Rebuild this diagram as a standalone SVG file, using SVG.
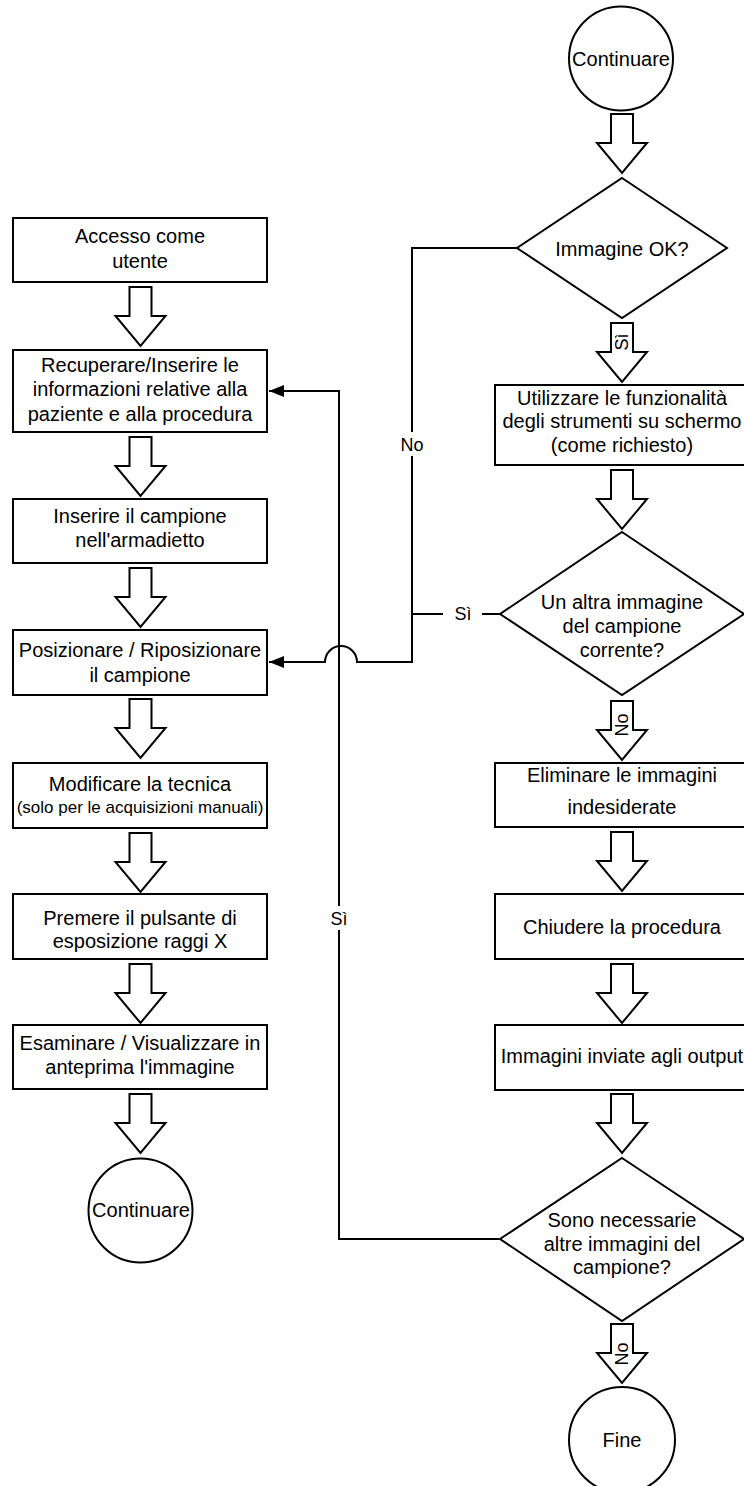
<svg xmlns="http://www.w3.org/2000/svg" width="744" height="1486" viewBox="0 0 744 1486">
<style>
  .shape { fill: #ffffff; stroke: #000000; stroke-width: 2; }
  .blk { fill: #ffffff; stroke: #000000; stroke-width: 2; stroke-linejoin: miter; }
  .t { font-family: "Liberation Sans", Arial, sans-serif; font-size: 20px; fill: #000000; text-anchor: middle; }
  .ts { font-family: "Liberation Sans", Arial, sans-serif; font-size: 17px; fill: #000000; text-anchor: middle; }
  .lbl { font-family: "Liberation Sans", Arial, sans-serif; font-size: 18px; fill: #000000; text-anchor: middle; }
  .rl { font-family: "Liberation Sans", Arial, sans-serif; font-size: 18px; fill: #000000; text-anchor: middle; dominant-baseline: central; }
  .conn { fill: none; stroke: #000000; stroke-width: 2; }
</style>
<defs>
  <path id="blockArrow" d="M -11 -59 H 11 V -30 H 25 L 0 0 L -25 -30 H -11 Z"/>
  <marker id="ah" markerUnits="userSpaceOnUse" markerWidth="16" markerHeight="14" refX="15" refY="7" orient="auto">
    <path d="M 0 1 L 15 7 L 0 13 Z" fill="#000000"/>
  </marker>
</defs>
<rect width="744" height="1486" fill="#ffffff"/>

<!-- Left column -->
<g id="n_accesso">
  <rect class="shape" x="13" y="218" width="254" height="64"/>
  <text class="t" x="140" y="243">Accesso come</text>
  <text class="t" x="140" y="268">utente</text>
</g>
<g id="a1"><use href="#blockArrow" class="blk" x="140.5" y="346"/></g>
<g id="n_recuperare">
  <rect class="shape" x="13" y="350" width="254" height="82"/>
  <text class="t" x="140" y="372">Recuperare/Inserire le</text>
  <text class="t" x="140" y="396">informazioni relative alla</text>
  <text class="t" x="140" y="421">paziente e alla procedura</text>
</g>
<g id="a2"><use href="#blockArrow" class="blk" x="140.5" y="496"/></g>
<g id="n_inserire">
  <rect class="shape" x="13" y="499" width="254" height="64"/>
  <text class="t" x="140" y="523">Inserire il campione</text>
  <text class="t" x="140" y="547">nell'armadietto</text>
</g>
<g id="a3"><use href="#blockArrow" class="blk" x="140.5" y="627"/></g>
<g id="n_posizionare">
  <rect class="shape" x="13" y="630" width="254" height="65"/>
  <text class="t" x="140" y="657">Posizionare / Riposizionare</text>
  <text class="t" x="140" y="682">il campione</text>
</g>
<g id="a4"><use href="#blockArrow" class="blk" x="140.5" y="758"/></g>
<g id="n_modificare">
  <rect class="shape" x="13" y="763" width="254" height="65"/>
  <text class="t" x="140" y="791">Modificare la tecnica</text>
  <text class="ts" x="140" y="813">(solo per le acquisizioni manuali)</text>
</g>
<g id="a5"><use href="#blockArrow" class="blk" x="140.5" y="892"/></g>
<g id="n_premere">
  <rect class="shape" x="13" y="894" width="254" height="65"/>
  <text class="t" x="140" y="925">Premere il pulsante di</text>
  <text class="t" x="140" y="948">esposizione raggi X</text>
</g>
<g id="a6"><use href="#blockArrow" class="blk" x="140.5" y="1023"/></g>
<g id="n_esaminare">
  <rect class="shape" x="13" y="1025" width="254" height="64"/>
  <text class="t" x="140" y="1050">Esaminare / Visualizzare in</text>
  <text class="t" x="140" y="1074">anteprima l'immagine</text>
</g>
<g id="a7"><use href="#blockArrow" class="blk" x="140.5" y="1153"/></g>
<g id="n_continuare_l">
  <circle class="shape" cx="140.5" cy="1210.5" r="52"/>
  <text class="t" x="141" y="1217">Continuare</text>
</g>

<!-- Right column -->
<g id="n_continuare_r">
  <circle class="shape" cx="621" cy="58.5" r="52"/>
  <text class="t" x="621" y="66">Continuare</text>
</g>
<g id="b1"><use href="#blockArrow" class="blk" x="622" y="173"/></g>
<g id="n_immagine_ok">
  <polygon class="shape" points="622,178 727,248 622,318 517,248"/>
  <text class="t" x="622" y="256">Immagine OK?</text>
</g>
<g id="b2">
  <use href="#blockArrow" class="blk" x="622" y="382"/>
  <text class="rl" transform="translate(622,342) rotate(-90)">Sì</text>
</g>
<g id="n_utilizzare">
  <rect class="shape" x="495" y="385" width="254" height="80"/>
  <text class="t" x="622" y="405">Utilizzare le funzionalità</text>
  <text class="t" x="622" y="428">degli strumenti su schermo</text>
  <text class="t" x="622" y="452">(come richiesto)</text>
</g>
<g id="b3"><use href="#blockArrow" class="blk" x="622" y="529"/></g>
<g id="n_altra">
  <polygon class="shape" points="622,532 744,614 622,695 500,614"/>
  <text class="t" x="622" y="609">Un altra immagine</text>
  <text class="t" x="622" y="633">del campione</text>
  <text class="t" x="622" y="657">corrente?</text>
</g>
<g id="b4">
  <use href="#blockArrow" class="blk" x="622" y="760"/>
  <text class="rl" transform="translate(622,725) rotate(-90)">No</text>
</g>
<g id="n_eliminare">
  <rect class="shape" x="495" y="763" width="254" height="64"/>
  <text class="t" x="622" y="782">Eliminare le immagini</text>
  <text class="t" x="622" y="814">indesiderate</text>
</g>
<g id="b5"><use href="#blockArrow" class="blk" x="622" y="891"/></g>
<g id="n_chiudere">
  <rect class="shape" x="495" y="894" width="254" height="65"/>
  <text class="t" x="622" y="934">Chiudere la procedura</text>
</g>
<g id="b6"><use href="#blockArrow" class="blk" x="622" y="1023"/></g>
<g id="n_inviate">
  <rect class="shape" x="495" y="1025" width="254" height="65"/>
  <text class="t" x="622" y="1063">Immagini inviate agli output</text>
</g>
<g id="b7"><use href="#blockArrow" class="blk" x="622" y="1153"/></g>
<g id="n_necessarie">
  <polygon class="shape" points="622,1158 744,1239 622,1321 500,1239"/>
  <text class="t" x="622" y="1227">Sono necessarie</text>
  <text class="t" x="622" y="1251">altre immagini del</text>
  <text class="t" x="622" y="1274">campione?</text>
</g>
<g id="b8">
  <use href="#blockArrow" class="blk" x="622" y="1383"/>
  <text class="rl" transform="translate(622,1354) rotate(-90)">No</text>
</g>
<g id="n_fine">
  <circle class="shape" cx="622" cy="1440" r="53"/>
  <text class="t" x="622" y="1447">Fine</text>
</g>

<!-- Connectors -->
<g id="connectors">
  <path class="conn" d="M 499 1239 H 339 V 391 H 269" marker-end="url(#ah)"/>
  <path class="conn" d="M 517 248 H 412 V 662 H 357 A 16 16 0 0 0 325 662 H 269" marker-end="url(#ah)"/>
  <path class="conn" d="M 500 614 H 482 M 443 614 H 412"/>
  <rect x="400" y="432" width="24" height="24" fill="#ffffff"/>
  <text class="lbl" x="412" y="451">No</text>
  <text class="lbl" x="463" y="620">Sì</text>
  <rect x="330" y="906" width="18" height="24" fill="#ffffff"/>
  <text class="lbl" x="339" y="925">Sì</text>
</g>
</svg>
